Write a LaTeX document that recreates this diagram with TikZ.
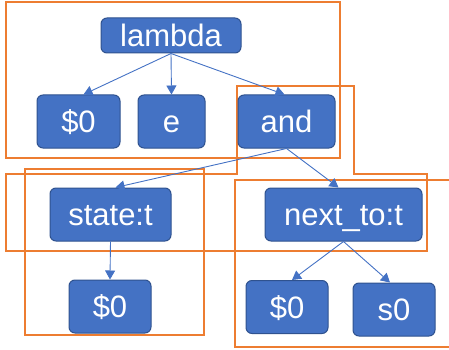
\documentclass[tikz,border=0pt]{standalone}
\usepackage{fontspec}
\setmainfont{Liberation Sans}
\usetikzlibrary{arrows.meta}
\definecolor{nodeblue}{HTML}{4472C4}
\definecolor{nodeedge}{HTML}{2F528F}
\definecolor{frameorange}{HTML}{ED7D31}
\begin{document}
\begin{tikzpicture}[x=1pt,y=-1pt,
  tn/.style={draw=nodeedge, line width=1pt, fill=nodeblue, rounded corners=6pt, text=white,
    font=\fontsize{31}{36}\selectfont, inner sep=0pt, text height=22pt, text depth=0pt, minimum height=53pt},
  conn/.style={draw=nodeblue, line width=0.9pt, -{Triangle[length=9pt,width=10pt]}},
  frame/.style={draw=frameorange, line width=2pt}]
\useasboundingbox (0,0) rectangle (449,350);
% frames
\draw[frame] (6,2) rectangle (340,158);
\draw[frame] (6,174) -- (237,174) -- (237,86) -- (354,86) -- (354,174) -- (427,174) -- (427,251) -- (6,251) -- cycle;
\draw[frame] (25,169) rectangle (204,335);
\draw[frame] (235,180) rectangle (460,347);
% nodes
\node[tn, minimum width=140pt, minimum height=35pt] (lam) at (171,35.5) {lambda};
\node[tn, minimum width=83pt] (a0) at (78.5,121.5) {\$0};
\node[tn, minimum width=67pt] (e) at (171.5,121.5) {e};
\node[tn, minimum width=97pt] (and) at (286.5,121.5) {and};
\node[tn, minimum width=121pt] (st) at (110.5,214.5) {state:t};
\node[tn, minimum width=157pt] (nt) at (343.5,214.5) {next\_to:t};
\node[tn, minimum width=82pt] (b0) at (110,306.5) {\$0};
\node[tn, minimum width=82pt] (c0) at (287,307) {\$0};
\node[tn, minimum width=82pt] (s0) at (394,309.5) {s0};
% connectors
\draw[conn] (lam.south) -- ([xshift=5pt]a0.north);
\draw[conn] (lam.south) -- (e.north);
\draw[conn] (lam.south) -- ([xshift=-2pt]and.north);
\draw[conn] (and.south) -- ([xshift=5pt]st.north);
\draw[conn] (and.south) -- ([xshift=-5pt]nt.north);
\draw[conn] (st.south) -- (b0.north);
\draw[conn] (nt.south) -- ([xshift=5pt]c0.north);
\draw[conn] (nt.south) -- ([xshift=-4pt]s0.north);
\end{tikzpicture}
\end{document}
